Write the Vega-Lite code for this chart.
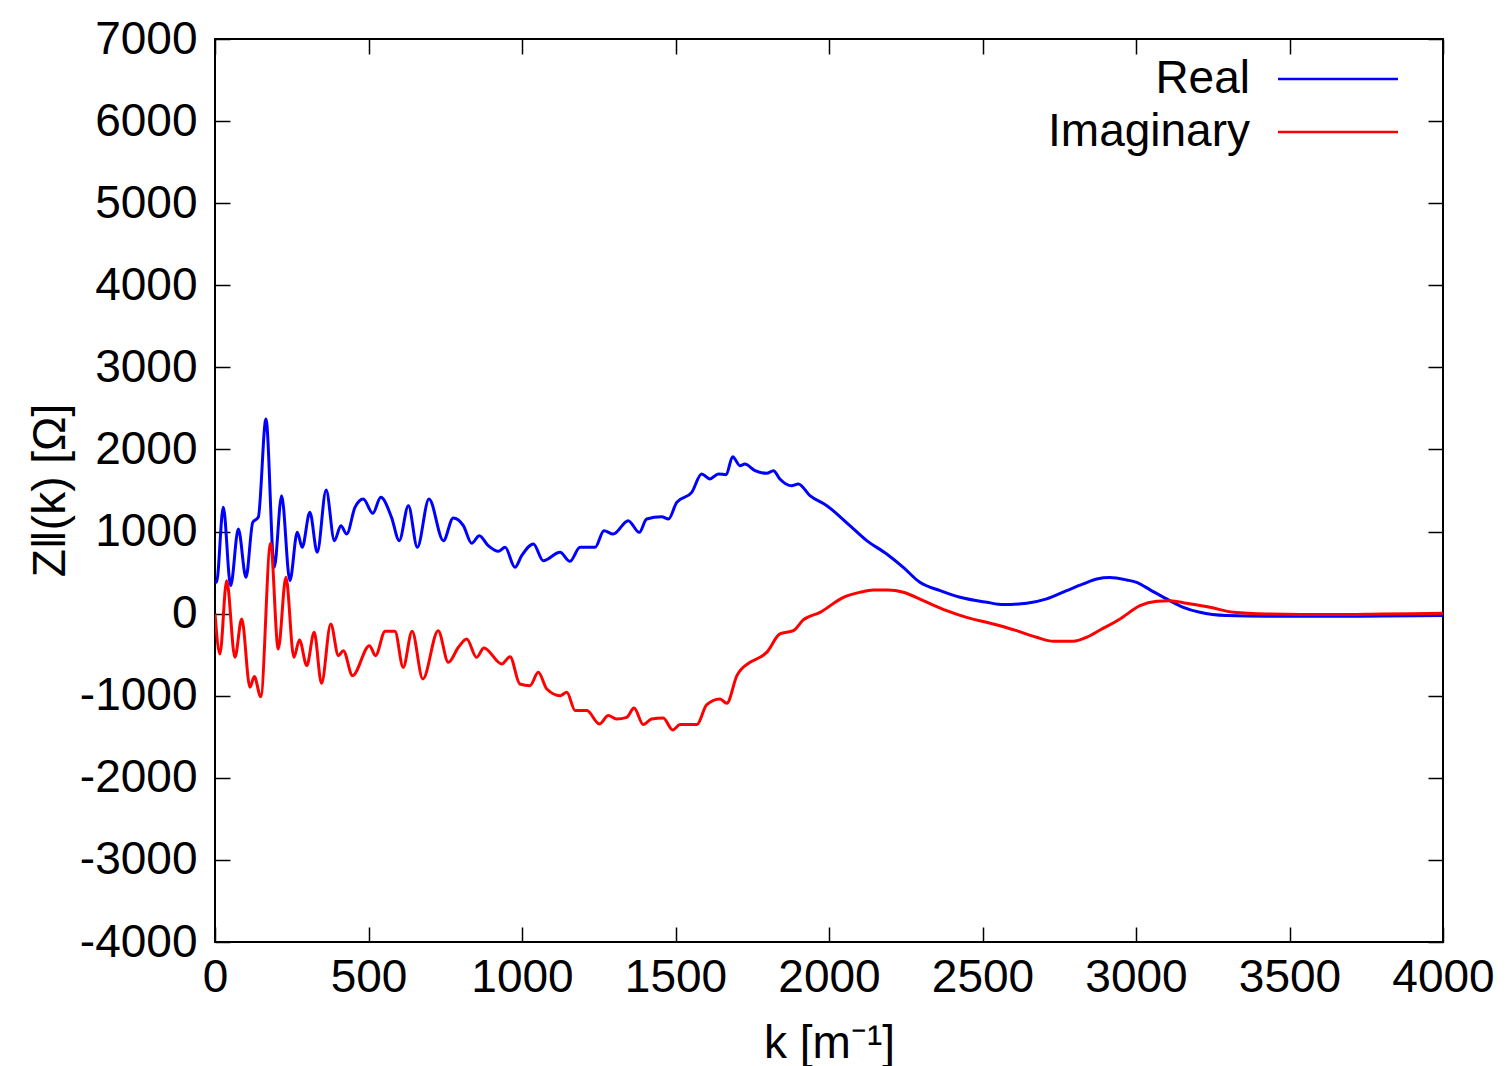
{
  "$schema": "https://vega.github.io/schema/vega-lite/v6.json",
  "width": 1228,
  "height": 903,
  "autosize": {"type": "none"},
  "padding": {"left": 215, "top": 39, "right": 69, "bottom": 124},
  "background": "white",
  "config": {
    "font": "Liberation Sans",
    "view": {"stroke": "black", "strokeWidth": 2},
    "axis": {
      "domain": false,
      "grid": false,
      "tickColor": "black",
      "tickWidth": 1.5,
      "tickSize": -15,
      "labelFontSize": 46,
      "labelColor": "black",
      "labelFont": "Liberation Sans",
      "labelFlush": false,
      "labelOverlap": false,
      "titleFont": "Liberation Sans",
      "titleFontSize": 46,
      "titleFontWeight": "normal",
      "titleColor": "black"
    }
  },
  "datasets": {
    "z": [
      {"k": 0, "v": 400, "part": "Real"},
      {"k": 5, "v": 381, "part": "Real"},
      {"k": 27, "v": 1295, "part": "Real"},
      {"k": 51, "v": 341, "part": "Real"},
      {"k": 76, "v": 1031, "part": "Real"},
      {"k": 101, "v": 442, "part": "Real"},
      {"k": 123, "v": 1112, "part": "Real"},
      {"k": 141, "v": 1173, "part": "Real"},
      {"k": 166, "v": 2371, "part": "Real"},
      {"k": 193, "v": 564, "part": "Real"},
      {"k": 217, "v": 1437, "part": "Real"},
      {"k": 244, "v": 402, "part": "Real"},
      {"k": 268, "v": 990, "part": "Real"},
      {"k": 284, "v": 808, "part": "Real"},
      {"k": 309, "v": 1234, "part": "Real"},
      {"k": 333, "v": 747, "part": "Real"},
      {"k": 362, "v": 1507, "part": "Real"},
      {"k": 389, "v": 889, "part": "Real"},
      {"k": 410, "v": 1072, "part": "Real"},
      {"k": 429, "v": 970, "part": "Real"},
      {"k": 456, "v": 1295, "part": "Real"},
      {"k": 483, "v": 1397, "part": "Real"},
      {"k": 514, "v": 1222, "part": "Real"},
      {"k": 540, "v": 1417, "part": "Real"},
      {"k": 575, "v": 1173, "part": "Real"},
      {"k": 600, "v": 889, "part": "Real"},
      {"k": 630, "v": 1315, "part": "Real"},
      {"k": 659, "v": 808, "part": "Real"},
      {"k": 697, "v": 1397, "part": "Real"},
      {"k": 744, "v": 889, "part": "Real"},
      {"k": 776, "v": 1166, "part": "Real"},
      {"k": 809, "v": 1072, "part": "Real"},
      {"k": 836, "v": 857, "part": "Real"},
      {"k": 861, "v": 950, "part": "Real"},
      {"k": 890, "v": 828, "part": "Real"},
      {"k": 923, "v": 759, "part": "Real"},
      {"k": 945, "v": 808, "part": "Real"},
      {"k": 977, "v": 564, "part": "Real"},
      {"k": 999, "v": 706, "part": "Real"},
      {"k": 1037, "v": 849, "part": "Real"},
      {"k": 1069, "v": 645, "part": "Real"},
      {"k": 1124, "v": 747, "part": "Real"},
      {"k": 1156, "v": 637, "part": "Real"},
      {"k": 1189, "v": 808, "part": "Real"},
      {"k": 1238, "v": 808, "part": "Real"},
      {"k": 1267, "v": 1011, "part": "Real"},
      {"k": 1297, "v": 970, "part": "Real"},
      {"k": 1346, "v": 1133, "part": "Real"},
      {"k": 1382, "v": 990, "part": "Real"},
      {"k": 1406, "v": 1153, "part": "Real"},
      {"k": 1455, "v": 1181, "part": "Real"},
      {"k": 1477, "v": 1153, "part": "Real"},
      {"k": 1504, "v": 1356, "part": "Real"},
      {"k": 1553, "v": 1478, "part": "Real"},
      {"k": 1585, "v": 1702, "part": "Real"},
      {"k": 1612, "v": 1641, "part": "Real"},
      {"k": 1640, "v": 1702, "part": "Real"},
      {"k": 1665, "v": 1693, "part": "Real"},
      {"k": 1686, "v": 1912, "part": "Real"},
      {"k": 1710, "v": 1803, "part": "Real"},
      {"k": 1726, "v": 1823, "part": "Real"},
      {"k": 1759, "v": 1742, "part": "Real"},
      {"k": 1797, "v": 1709, "part": "Real"},
      {"k": 1819, "v": 1742, "part": "Real"},
      {"k": 1840, "v": 1641, "part": "Real"},
      {"k": 1878, "v": 1559, "part": "Real"},
      {"k": 1900, "v": 1580, "part": "Real"},
      {"k": 1938, "v": 1437, "part": "Real"},
      {"k": 1993, "v": 1315, "part": "Real"},
      {"k": 2068, "v": 1072, "part": "Real"},
      {"k": 2123, "v": 889, "part": "Real"},
      {"k": 2188, "v": 727, "part": "Real"},
      {"k": 2242, "v": 564, "part": "Real"},
      {"k": 2296, "v": 381, "part": "Real"},
      {"k": 2362, "v": 280, "part": "Real"},
      {"k": 2427, "v": 199, "part": "Real"},
      {"k": 2514, "v": 138, "part": "Real"},
      {"k": 2568, "v": 110, "part": "Real"},
      {"k": 2644, "v": 126, "part": "Real"},
      {"k": 2709, "v": 179, "part": "Real"},
      {"k": 2774, "v": 280, "part": "Real"},
      {"k": 2828, "v": 362, "part": "Real"},
      {"k": 2872, "v": 423, "part": "Real"},
      {"k": 2915, "v": 440, "part": "Real"},
      {"k": 2970, "v": 410, "part": "Real"},
      {"k": 3002, "v": 381, "part": "Real"},
      {"k": 3046, "v": 290, "part": "Real"},
      {"k": 3100, "v": 179, "part": "Real"},
      {"k": 3154, "v": 77, "part": "Real"},
      {"k": 3208, "v": 16, "part": "Real"},
      {"k": 3295, "v": -24, "part": "Real"},
      {"k": 3426, "v": -33, "part": "Real"},
      {"k": 3643, "v": -33, "part": "Real"},
      {"k": 3800, "v": -28, "part": "Real"},
      {"k": 4000, "v": -24, "part": "Real"},
      {"k": 0, "v": 0, "part": "Imaginary"},
      {"k": 16, "v": -491, "part": "Imaginary"},
      {"k": 38, "v": 402, "part": "Imaginary"},
      {"k": 65, "v": -532, "part": "Imaginary"},
      {"k": 87, "v": -65, "part": "Imaginary"},
      {"k": 114, "v": -897, "part": "Imaginary"},
      {"k": 128, "v": -767, "part": "Imaginary"},
      {"k": 149, "v": -1011, "part": "Imaginary"},
      {"k": 181, "v": 857, "part": "Imaginary"},
      {"k": 206, "v": -430, "part": "Imaginary"},
      {"k": 231, "v": 442, "part": "Imaginary"},
      {"k": 257, "v": -532, "part": "Imaginary"},
      {"k": 275, "v": -321, "part": "Imaginary"},
      {"k": 299, "v": -633, "part": "Imaginary"},
      {"k": 323, "v": -227, "part": "Imaginary"},
      {"k": 347, "v": -849, "part": "Imaginary"},
      {"k": 377, "v": -126, "part": "Imaginary"},
      {"k": 402, "v": -512, "part": "Imaginary"},
      {"k": 418, "v": -451, "part": "Imaginary"},
      {"k": 448, "v": -755, "part": "Imaginary"},
      {"k": 503, "v": -390, "part": "Imaginary"},
      {"k": 523, "v": -512, "part": "Imaginary"},
      {"k": 554, "v": -215, "part": "Imaginary"},
      {"k": 586, "v": -215, "part": "Imaginary"},
      {"k": 613, "v": -654, "part": "Imaginary"},
      {"k": 642, "v": -215, "part": "Imaginary"},
      {"k": 677, "v": -796, "part": "Imaginary"},
      {"k": 727, "v": -207, "part": "Imaginary"},
      {"k": 760, "v": -593, "part": "Imaginary"},
      {"k": 793, "v": -410, "part": "Imaginary"},
      {"k": 820, "v": -309, "part": "Imaginary"},
      {"k": 852, "v": -532, "part": "Imaginary"},
      {"k": 876, "v": -418, "part": "Imaginary"},
      {"k": 934, "v": -613, "part": "Imaginary"},
      {"k": 961, "v": -524, "part": "Imaginary"},
      {"k": 993, "v": -857, "part": "Imaginary"},
      {"k": 1026, "v": -877, "part": "Imaginary"},
      {"k": 1053, "v": -715, "part": "Imaginary"},
      {"k": 1081, "v": -918, "part": "Imaginary"},
      {"k": 1124, "v": -999, "part": "Imaginary"},
      {"k": 1146, "v": -958, "part": "Imaginary"},
      {"k": 1173, "v": -1181, "part": "Imaginary"},
      {"k": 1211, "v": -1181, "part": "Imaginary"},
      {"k": 1252, "v": -1344, "part": "Imaginary"},
      {"k": 1281, "v": -1242, "part": "Imaginary"},
      {"k": 1308, "v": -1283, "part": "Imaginary"},
      {"k": 1341, "v": -1263, "part": "Imaginary"},
      {"k": 1365, "v": -1149, "part": "Imaginary"},
      {"k": 1395, "v": -1352, "part": "Imaginary"},
      {"k": 1422, "v": -1283, "part": "Imaginary"},
      {"k": 1460, "v": -1271, "part": "Imaginary"},
      {"k": 1491, "v": -1417, "part": "Imaginary"},
      {"k": 1515, "v": -1352, "part": "Imaginary"},
      {"k": 1569, "v": -1352, "part": "Imaginary"},
      {"k": 1602, "v": -1108, "part": "Imaginary"},
      {"k": 1645, "v": -1039, "part": "Imaginary"},
      {"k": 1667, "v": -1092, "part": "Imaginary"},
      {"k": 1700, "v": -755, "part": "Imaginary"},
      {"k": 1743, "v": -593, "part": "Imaginary"},
      {"k": 1775, "v": -532, "part": "Imaginary"},
      {"k": 1797, "v": -471, "part": "Imaginary"},
      {"k": 1840, "v": -247, "part": "Imaginary"},
      {"k": 1884, "v": -207, "part": "Imaginary"},
      {"k": 1916, "v": -77, "part": "Imaginary"},
      {"k": 1971, "v": 16, "part": "Imaginary"},
      {"k": 2047, "v": 199, "part": "Imaginary"},
      {"k": 2101, "v": 260, "part": "Imaginary"},
      {"k": 2144, "v": 289, "part": "Imaginary"},
      {"k": 2193, "v": 289, "part": "Imaginary"},
      {"k": 2242, "v": 260, "part": "Imaginary"},
      {"k": 2307, "v": 158, "part": "Imaginary"},
      {"k": 2383, "v": 37, "part": "Imaginary"},
      {"k": 2448, "v": -45, "part": "Imaginary"},
      {"k": 2535, "v": -126, "part": "Imaginary"},
      {"k": 2611, "v": -207, "part": "Imaginary"},
      {"k": 2676, "v": -288, "part": "Imaginary"},
      {"k": 2731, "v": -337, "part": "Imaginary"},
      {"k": 2796, "v": -337, "part": "Imaginary"},
      {"k": 2839, "v": -288, "part": "Imaginary"},
      {"k": 2883, "v": -199, "part": "Imaginary"},
      {"k": 2948, "v": -65, "part": "Imaginary"},
      {"k": 3013, "v": 97, "part": "Imaginary"},
      {"k": 3068, "v": 150, "part": "Imaginary"},
      {"k": 3111, "v": 158, "part": "Imaginary"},
      {"k": 3165, "v": 126, "part": "Imaginary"},
      {"k": 3241, "v": 77, "part": "Imaginary"},
      {"k": 3317, "v": 16, "part": "Imaginary"},
      {"k": 3426, "v": -4, "part": "Imaginary"},
      {"k": 3643, "v": -12, "part": "Imaginary"},
      {"k": 3800, "v": -5, "part": "Imaginary"},
      {"k": 4000, "v": 4, "part": "Imaginary"}
    ]
  },
  "data": {"name": "z"},
  "layer": [
    {
      "mark": {"type": "line", "strokeWidth": 3, "clip": true, "interpolate": "monotone"},
      "encoding": {
        "x": {
          "field": "k", "type": "quantitative",
          "scale": {"domain": [0, 4000], "nice": false, "zero": false},
          "axis": {
            "orient": "bottom",
            "values": [0, 500, 1000, 1500, 2000, 2500, 3000, 3500, 4000],
            "labelExpr": "datum.value + ''",
            "labelPadding": 28,
            "title": "k [m⁻¹]",
            "titleX": 614,
            "titleY": 115,
            "titleAlign": "center",
            "titleBaseline": "alphabetic"
          }
        },
        "y": {
          "field": "v", "type": "quantitative",
          "scale": {"domain": [-4000, 7000], "nice": false, "zero": false},
          "axis": {
            "orient": "left",
            "values": [-4000, -3000, -2000, -1000, 0, 1000, 2000, 3000, 4000, 5000, 6000, 7000],
            "labelExpr": "datum.value + ''",
            "labelPadding": 33,
            "labelBaseline": "middle",
            "title": "Z‖(k) [Ω]",
            "titleAngle": -90,
            "titleX": -165,
            "titleY": 451,
            "titleAlign": "center",
            "titleBaseline": "middle"
          }
        },
        "color": {
          "field": "part", "type": "nominal",
          "scale": {"domain": ["Real", "Imaginary"], "range": ["#0000ff", "#ff0000"]},
          "legend": {
            "orient": "none",
            "legendX": 1100,
            "legendY": 17,
            "title": null,
            "symbolType": "M-4,0H4",
            "symbolSize": 900,
            "symbolStrokeWidth": 2.5,
            "labelFontSize": 46,
            "labelFont": "Liberation Sans",
            "labelColor": "black",
            "labelAlign": "right",
            "labelOffset": -111,
            "labelLimit": 500,
            "rowPadding": 7,
            "padding": 0
          }
        }
      }
    },
    {
      "mark": {"type": "point", "opacity": 0},
      "encoding": {
        "x": {
          "field": "k", "type": "quantitative",
          "axis": {
            "orient": "top",
            "values": [0, 500, 1000, 1500, 2000, 2500, 3000, 3500, 4000],
            "labels": false,
            "title": null
          }
        },
        "y": {
          "field": "v", "type": "quantitative",
          "axis": {
            "orient": "right",
            "values": [-4000, -3000, -2000, -1000, 0, 1000, 2000, 3000, 4000, 5000, 6000, 7000],
            "labels": false,
            "title": null
          }
        }
      }
    }
  ],
  "resolve": {"axis": {"x": "independent", "y": "independent"}}
}
